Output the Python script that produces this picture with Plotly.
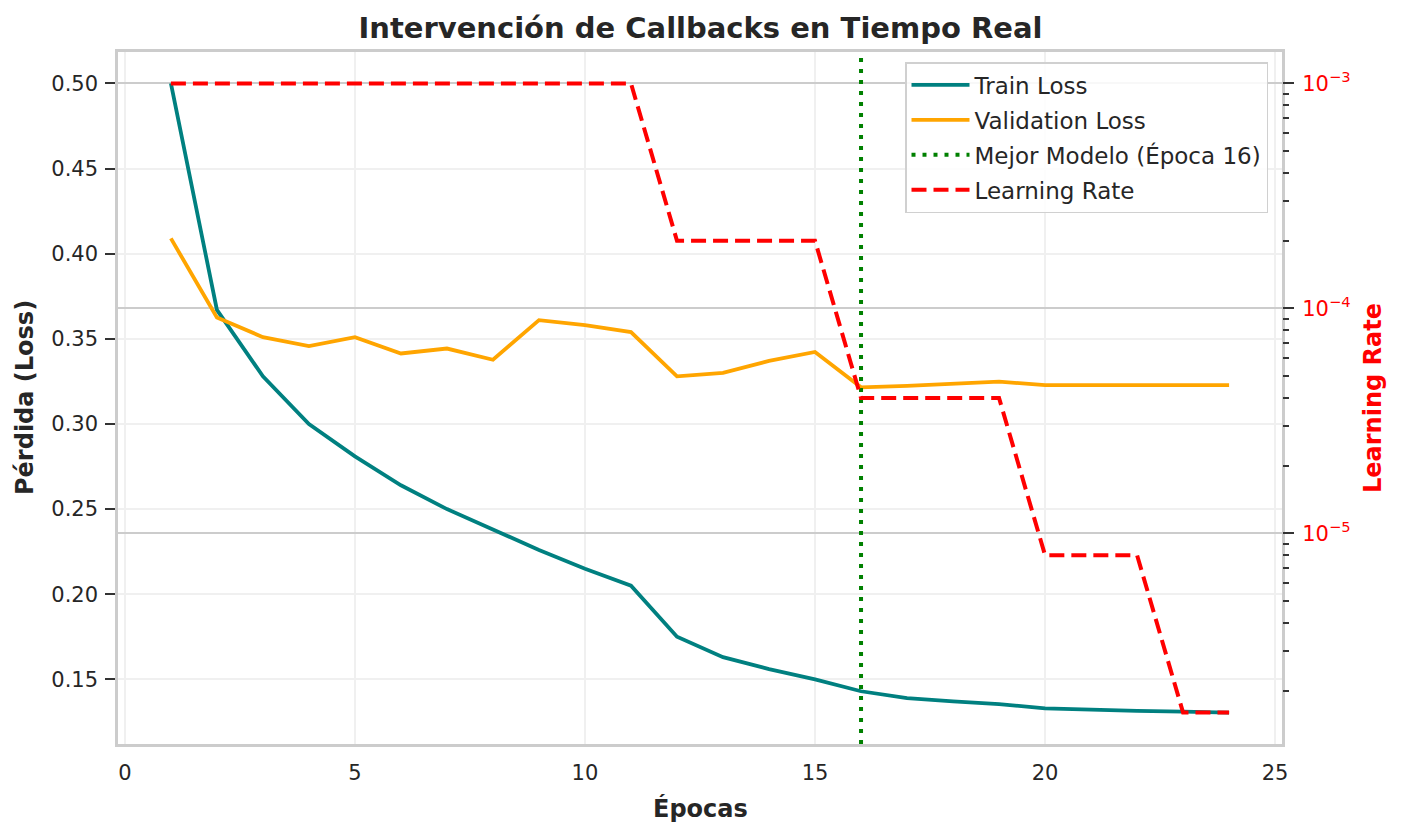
import math
import plotly.graph_objects as go

# ---------------- data ----------------
epochs = list(range(1, 25))
train_loss = [0.500, 0.367, 0.328, 0.300, 0.281, 0.264, 0.250, 0.238, 0.226, 0.215,
              0.205, 0.175, 0.163, 0.156, 0.150, 0.143, 0.139, 0.137, 0.1355, 0.133,
              0.132, 0.1315, 0.131, 0.1305]
val_loss = [0.409, 0.3625, 0.351, 0.3457, 0.351, 0.3414, 0.3443, 0.3377, 0.361, 0.358,
            0.354, 0.328, 0.330, 0.337, 0.3423, 0.3215, 0.3224, 0.3234, 0.3249, 0.3228,
            0.3228, 0.3228, 0.3228, 0.3228]
learning_rate = [1e-3, 1e-3, 1e-3, 1e-3, 1e-3, 1e-3, 1e-3, 1e-3, 1e-3, 1e-3,
                 1e-3, 2e-4, 2e-4, 2e-4, 2e-4, 4e-5, 4e-5, 4e-5, 4e-5, 8e-6,
                 8e-6, 8e-6, 1.6e-6, 1.6e-6]
best_epoch = 16
x_ticks = [0, 5, 10, 15, 20, 25]
loss_ticks = [0.15, 0.20, 0.25, 0.30, 0.35, 0.40, 0.45, 0.50]
lr_ticks = [1e-3, 1e-4, 1e-5]
lr_ticktext = ["10<sup>\u22123</sup>", "10<sup>\u22124</sup>", "10<sup>\u22125</sup>"]

title = "Intervención de Callbacks en Tiempo Real"

# ---------------- ranges (matplotlib-like 5% margins) ----------------
xmin, xmax = min(epochs), max(epochs)
xpad = 0.05 * (xmax - xmin)
x_range = [xmin - xpad, xmax + xpad]

all_loss = train_loss + val_loss
lmin, lmax = min(all_loss), max(all_loss)
lpad = 0.05 * (lmax - lmin)
y_range = [lmin - lpad, lmax + lpad]

lo, hi = math.log10(min(learning_rate)), math.log10(max(learning_rate))
lrpad = 0.05 * (hi - lo)
y2_range = [lo - lrpad, hi + lrpad]

minor_vals = [m * 10.0 ** e for e in (-6, -5, -4) for m in range(2, 10)]

TXT = "#262626"
FONT = "DejaVu Sans"

fig = go.Figure()

fig.add_trace(go.Scatter(
    x=epochs, y=train_loss, mode="lines", name="Train Loss",
    line=dict(color="#008080", width=3.8), legendgroup="a", yaxis="y"))
fig.add_trace(go.Scatter(
    x=epochs, y=val_loss, mode="lines", name="Validation Loss",
    line=dict(color="#FFA500", width=3.8), legendgroup="b", yaxis="y"))
fig.add_trace(go.Scatter(
    x=[best_epoch, best_epoch], y=y_range, mode="lines",
    name=f"Mejor Modelo (Época {best_epoch})",
    line=dict(color="#008000", width=4, dash="4px,7px"), legendgroup="c", yaxis="y"))
fig.add_trace(go.Scatter(
    x=epochs, y=learning_rate, mode="lines", name="Learning Rate",
    line=dict(color="#FF0000", width=4, dash="15px,7px"), legendgroup="d", yaxis="y2"))

L, R, T, B = 118, 1401 - 1282, 52, 838 - 744

fig.update_layout(
    width=1401, height=838,
    margin=dict(l=L, r=R, t=T, b=B),
    paper_bgcolor="white", plot_bgcolor="white",
    font=dict(family=FONT, color=TXT, size=21),
    title=dict(text=f"<b>{title}</b>", x=0.5, xanchor="center",
               y=1 - 28 / 838, yanchor="middle", yref="container",
               font=dict(family=FONT, size=29, color=TXT)),
    xaxis=dict(range=x_range, tickvals=x_ticks, showgrid=True, gridcolor="#f0f0f0",
               gridwidth=1.5, zeroline=False, showline=True, linecolor="#cccccc",
               linewidth=2.5, mirror=True, ticks="", ticklabelstandoff=8,
               tickfont=dict(size=21, color=TXT)),
    yaxis=dict(range=y_range, tickvals=loss_ticks, tickformat=".2f", showgrid=True,
               gridcolor="#f0f0f0", gridwidth=1.5, zeroline=False, showline=True,
               linecolor="#cccccc", linewidth=2.5, mirror=True, ticks="outside",
               ticklen=10, tickwidth=2.2, tickcolor="#333333", ticklabelstandoff=3,
               tickfont=dict(size=21, color=TXT)),
    yaxis2=dict(type="log", range=y2_range, overlaying="y", side="right",
                tickvals=lr_ticks, ticktext=lr_ticktext, showgrid=True,
                gridcolor="#cccccc", gridwidth=2, zeroline=False, showline=False,
                ticks="outside", ticklen=11, tickwidth=2.2, tickcolor="#333333",
                ticklabelstandoff=4,
                tickfont=dict(size=21, color="#FF0000"),
                minor=dict(tickmode="array", tickvals=minor_vals, ticks="outside",
                           ticklen=6, tickwidth=1.6, tickcolor="#333333", showgrid=False)),
    legend=dict(x=(1268 - 118) / 1164, y=(744 - 62) / 692, xanchor="right", yanchor="top",
                bgcolor="rgba(255,255,255,0.85)", bordercolor="#d0d0d0", borderwidth=1.5,
                font=dict(family=FONT, size=23, color=TXT), traceorder="grouped",
                tracegroupgap=2, itemwidth=58),
    showlegend=True,
)

fig.add_annotation(text="<b>Pérdida (Loss)</b>", xref="paper", yref="paper", x=0, y=0.5,
                   xshift=25 - L, textangle=-90, showarrow=False, xanchor="center",
                   yanchor="middle", font=dict(family=FONT, size=24, color=TXT))
fig.add_annotation(text="<b>Learning Rate</b>", xref="paper", yref="paper", x=1, y=0.5,
                   xshift=1373 - 1282, textangle=-90, showarrow=False, xanchor="center",
                   yanchor="middle", font=dict(family=FONT, size=24, color="#FF0000"))
fig.add_annotation(text="<b>Épocas</b>", xref="paper", yref="paper", x=0.5, y=0,
                   yshift=-(808 - 744), showarrow=False, xanchor="center",
                   yanchor="middle", font=dict(family=FONT, size=24, color=TXT))

fig.write_html("out.html")
